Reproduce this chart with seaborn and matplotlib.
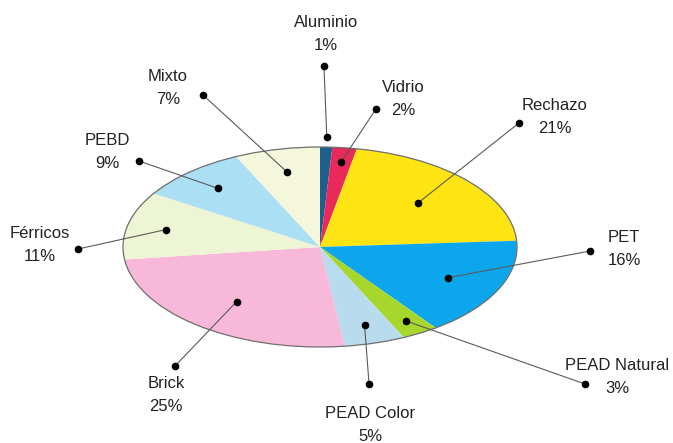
import numpy as np
import matplotlib
matplotlib.use("Agg")
import matplotlib.pyplot as plt
import seaborn as sns
from matplotlib.patches import Circle

materials = ["Aluminio", "Vidrio", "Rechazo", "PET", "PEAD Natural",
             "PEAD Color", "Brick", "Férricos", "PEBD", "Mixto"]
shares = [1, 2, 21, 16, 3, 5, 25, 11, 9, 7]

colors = ["#1f5f8c", "#e8295a", "#ffe414", "#0ba6ec", "#a7d62c",
          "#b8dcee", "#f8b8d9", "#eef5d4", "#aadff4", "#f4f7db"]

# leader line layout: inner dot radius (fraction of pie radius),
# outer dot in axes data units, label offset from outer dot in pixels
inner_r = [1.10, 0.86, 0.66, 0.72, 0.86, 0.81, 0.69, 0.80, 0.78, 0.77]
outer_xy = [(0.02, 1.81), (0.284, 1.38), (1.01, 1.24), (1.371, -0.04),
            (1.345, -1.37), (0.249, -1.37), (-0.736, -1.19), (-1.228, -0.02),
            (-0.919, 0.86), (-0.594, 1.52)]
label_off = [(2, 32), (27, 10), (36, 6), (34, 2), (32, 7),
             (1, -41), (-9, -29), (-38, 4), (-32, 9), (-35, 7)]

sns.set_theme(style="white")
plt.rcParams["font.family"] = ["Liberation Sans", "DejaVu Sans"]

fig = plt.figure(figsize=(6.73, 4.43), dpi=100)
ax = fig.add_axes([0, 0, 1, 1])

wedges, _ = ax.pie(shares, colors=colors, startangle=90, counterclock=False,
                   wedgeprops=dict(linewidth=0, edgecolor="none"))
ax.add_patch(Circle((0, 0), 1, fill=False, edgecolor="#6f6f6f", linewidth=0.9))

ax.set_aspect("auto")
ax.set_xlim(-320 / 197, 353 / 197)
ax.set_ylim(-1.96, 2.47)
ax.axis("off")

for w, r, (ox, oy), off, name, val in zip(wedges, inner_r, outer_xy,
                                          label_off, materials, shares):
    mid = np.deg2rad((w.theta1 + w.theta2) / 2)
    ix, iy = r * np.cos(mid), r * np.sin(mid)
    ax.plot([ix, ox], [iy, oy], color="#5a5a5a", lw=0.8, zorder=3)
    ax.plot([ix, ox], [iy, oy], "o", color="black", ms=4.5, zorder=4)
    ax.annotate(f"{name}\n{val}%", (ox, oy), xytext=off,
                textcoords="offset pixels", ha="center", va="center",
                fontsize=12, linespacing=1.65, color="#222222")

fig.savefig("out.png", dpi=100)
